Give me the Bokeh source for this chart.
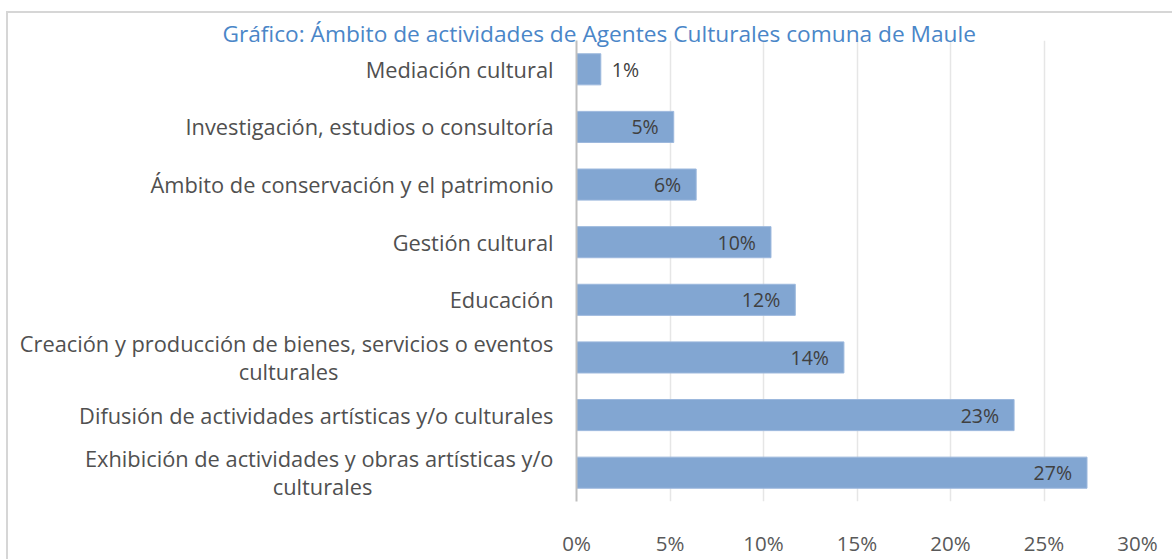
from bokeh.plotting import figure
from bokeh.models import Range1d, ColumnDataSource, FixedTicker
from bokeh.embed import file_html
from bokeh.resources import INLINE
from bokeh.core.properties import value

# ---- data ----
title_text = "Gráfico: Ámbito de actividades de Agentes Culturales comuna de Maule"
categories = [
    "Mediación cultural",
    "Investigación, estudios o consultoría",
    "Ámbito de conservación y el patrimonio",
    "Gestión cultural",
    "Educación",
    "Creación y producción de bienes, servicios o eventos\nculturales",
    "Difusión de actividades artísticas y/o culturales",
    "Exhibición de actividades y obras artísticas y/o\nculturales",
]
values = [1.3, 5.2, 6.4, 10.4, 11.7, 14.3, 23.4, 27.3]
value_labels = ["1%", "5%", "6%", "10%", "12%", "14%", "23%", "27%"]
x_ticks = [0, 5, 10, 15, 20, 25, 30]
x_tick_labels = ["0%", "5%", "10%", "15%", "20%", "25%", "30%"]

FONT = "Open Sans"
W, H = 1172, 559
n = len(categories)
ypos = [n - 1 - i for i in range(n)]  # first category on top

# rough Open Sans advance widths (em) used to centre wrapped second lines
_NARROW = {" ": .26, "i": .25, "í": .25, "l": .25, "j": .25, ",": .25, ".": .25,
           "t": .35, "f": .33, "r": .41, "/": .37, "s": .47, "c": .48, "y": .5,
           "v": .5, "x": .5, "m": .93, "E": .56, "C": .63, "e": .56, "a": .56}


def _em(s):
    return sum(_NARROW.get(ch, .61) for ch in s)


def center_wrapped(label):
    lines = label.split("\n")
    if len(lines) == 1:
        return label
    first, second = lines
    pad = round((_em(first) - _em(second)) / 2 / 0.26)
    return first + "\n" + second + "\u00a0" * pad


axis_labels = [center_wrapped(c) for c in categories]

inside = [v > 3 for v in values]
src = ColumnDataSource(dict(
    y=ypos,
    val=values,
    lbl=value_labels,
    align=["right" if i else "left" for i in inside],
    xoff=[-15 if i else 11 for i in inside],
))

p = figure(
    width=W, height=H,
    x_range=(0, 30),
    y_range=Range1d(-0.5, n - 0.5),
    output_backend="svg", toolbar_location=None,
    min_border_left=576, min_border_right=W - 1137,
    min_border_top=40, min_border_bottom=H - 505,
)
p.styles = {
    "margin": "0px",
    "background": "linear-gradient(#d6d6d6,#d6d6d6) 6px 11px / 2px 100% no-repeat, "
                  "linear-gradient(#d6d6d6,#d6d6d6) 6px 11px / 100% 2px no-repeat",
}
p.border_fill_alpha = 0
p.background_fill_color = "white"
p.outline_line_color = None

# title
p.title.text = title_text
p.title.align = "left"
p.title.offset = -354
p.title.vertical_align = "bottom"
p.title.standoff = -17
p.title.text_font = FONT
p.title.text_font_size = "22.7px"
p.title.text_font_style = "normal"
p.title.text_color = "#4A86C8"

p.hbar(y="y", right="val", left=0, height=0.54, source=src,
       fill_color="#82A6D2", line_color="#9CB8DD", line_width=1)

p.text(x="val", y="y", text="lbl", source=src,
       x_offset="xoff", text_align="align", text_baseline="middle",
       text_font=value(FONT), text_font_size="19.5px", text_color="#404040")

# y axis (category labels)
p.yaxis.ticker = FixedTicker(ticks=ypos)
p.yaxis.major_label_overrides = dict(zip(ypos, axis_labels))
p.yaxis.axis_line_color = "#bfbfbf"
p.yaxis.axis_line_width = 2
p.yaxis.major_tick_line_color = None
p.yaxis.minor_tick_line_color = None
p.yaxis.major_label_standoff = 17
p.yaxis.major_label_text_font = FONT
p.yaxis.major_label_text_font_size = "21.8px"
p.yaxis.major_label_text_color = "#505050"
p.yaxis.major_label_text_line_height = 0.95
p.ygrid.grid_line_color = None

# x axis
p.xaxis.ticker = FixedTicker(ticks=x_ticks)
p.xaxis.major_label_overrides = dict(zip(x_ticks, x_tick_labels))
p.xaxis.axis_line_color = None
p.xaxis.major_tick_line_color = None
p.xaxis.minor_tick_line_color = None
p.xaxis.major_label_standoff = 21
p.xaxis.major_label_text_font = FONT
p.xaxis.major_label_text_font_size = "20.5px"
p.xaxis.major_label_text_color = "#595959"
p.xgrid.ticker = FixedTicker(ticks=x_ticks)
p.xgrid.grid_line_color = "#e6e6e6"
p.xgrid.grid_line_width = 1.5

open("out.html", "w").write(file_html(p, INLINE))
